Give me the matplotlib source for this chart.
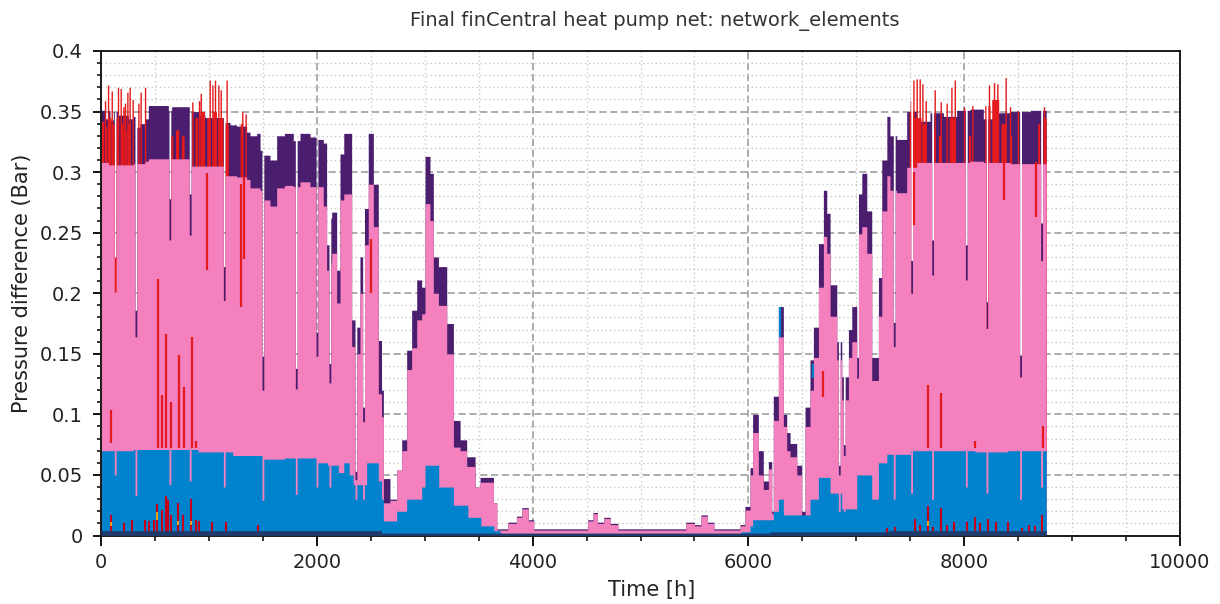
import numpy as np
import matplotlib
matplotlib.use('Agg')
import matplotlib.pyplot as plt
from matplotlib.ticker import MultipleLocator, FuncFormatter

# ---------------- data ----------------
# breakpoints (start hour) for the purple (upper) and pink series
pp_t = [0, 37, 68, 83, 114, 161, 253, 300, 330, 361, 408, 439, 624, 655, 825, 917, 964,
        1134, 1195, 1257, 1350, 1381, 1443, 1474, 1504, 1566, 1628, 1700, 1782, 1844, 1937,
        1999, 2060, 2091, 2120, 2138, 2184, 2215, 2250, 2323, 2354, 2400, 2440, 2477, 2524,
        2570, 2600, 2617, 2678, 2740, 2787, 2833, 2879, 2926, 2972, 3003, 3049, 3080, 3127,
        3204, 3266, 3328, 3389, 3467, 3513, 3637, 3668, 3770, 3850, 3900, 3960, 4010, 4510,
        4560, 4600, 4660, 4720, 4790, 5420, 5500, 5560, 5620, 5680, 5829, 5922, 5968, 6015,
        6039, 6092, 6138, 6185, 6216, 6231, 6278, 6324, 6355, 6386, 6448, 6494, 6525, 6571,
        6602, 6649, 6695, 6726, 6757, 6819, 6865, 6927, 6958, 7004, 7020, 7051, 7097, 7143,
        7205, 7236, 7283, 7312, 7374, 7467, 7560, 7683, 7807, 7930, 8054, 8177, 8301, 8425,
        8610]
purple_v = [0.351, 0.344, 0.351, 0.343, 0.350, 0.347, 0.344, 0.346, 0.337, 0.340, 0.344,
            0.355, 0.351, 0.354, 0.350, 0.347, 0.345, 0.341, 0.339, 0.338, 0.333, 0.330,
            0.332, 0.318, 0.314, 0.310, 0.330, 0.332, 0.326, 0.332, 0.329, 0.327, 0.324,
            0.240, 0.262, 0.267, 0.219, 0.315, 0.332, 0.178, 0.172, 0.230, 0.270, 0.332,
            0.290, 0.161, 0.120, 0.047, 0.030, 0.054, 0.079, 0.153, 0.186, 0.211, 0.205,
            0.313, 0.299, 0.230, 0.222, 0.175, 0.095, 0.079, 0.065, 0.040, 0.048, 0.027,
            0.0055, 0.011, 0.016, 0.023, 0.013, 0.0055, 0.013, 0.019, 0.011, 0.015, 0.010,
            0.0055, 0.011, 0.009, 0.017, 0.011, 0.0055, 0.0055, 0.009, 0.024, 0.056, 0.100,
            0.070, 0.045, 0.061, 0.020, 0.115, 0.189, 0.100, 0.085, 0.076, 0.058, 0.020,
            0.106, 0.145, 0.172, 0.241, 0.285, 0.266, 0.207, 0.160, 0.131, 0.170, 0.189,
            0.147, 0.282, 0.299, 0.268, 0.147, 0.213, 0.310, 0.346, 0.330, 0.327, 0.350,
            0.342, 0.349, 0.346, 0.351, 0.352, 0.344, 0.349, 0.350, 0.351]
pink_v = [0.308, 0.308, 0.306, 0.306, 0.306, 0.306, 0.306, 0.307, 0.307, 0.307, 0.309,
          0.311, 0.311, 0.311, 0.305, 0.305, 0.305, 0.297, 0.297, 0.296, 0.294, 0.287,
          0.287, 0.285, 0.277, 0.272, 0.287, 0.289, 0.288, 0.292, 0.288, 0.288, 0.272,
          0.219, 0.225, 0.233, 0.192, 0.277, 0.282, 0.156, 0.150, 0.200, 0.240, 0.290,
          0.255, 0.117, 0.098, 0.027, 0.029, 0.054, 0.070, 0.137, 0.155, 0.178, 0.183,
          0.274, 0.260, 0.200, 0.190, 0.150, 0.073, 0.070, 0.057, 0.040, 0.044, 0.027,
          0.0045, 0.010, 0.015, 0.022, 0.012, 0.0045, 0.012, 0.018, 0.010, 0.014, 0.009,
          0.0045, 0.010, 0.008, 0.016, 0.010, 0.0045, 0.0045, 0.008, 0.021, 0.050, 0.085,
          0.050, 0.038, 0.055, 0.018, 0.095, 0.164, 0.090, 0.070, 0.065, 0.050, 0.016,
          0.090, 0.120, 0.147, 0.205, 0.247, 0.233, 0.181, 0.145, 0.112, 0.147, 0.160,
          0.130, 0.249, 0.255, 0.233, 0.128, 0.181, 0.268, 0.297, 0.285, 0.283, 0.304,
          0.308, 0.308, 0.308, 0.308, 0.309, 0.308, 0.308, 0.307, 0.307]

# red patches on top of the pink (0 = none)
red_t = [0, 25, 40, 55, 70, 90, 100, 130, 140, 165, 180, 200, 215, 235, 245, 270,
         640, 665, 690, 720, 745, 770, 870, 895, 930, 960, 980, 1010, 1040, 1070, 1090,
         1130, 1150, 1180, 1290, 1315,
         7490, 7530, 7600, 7615, 7650, 7700, 7725, 7760, 7780, 7860, 7920, 8040, 8060,
         8190, 8240, 8255, 8320, 8340, 8390, 8420, 8440, 8680, 8700, 8730]
red_v = [0.342, 0.0, 0.338, 0.0, 0.345, 0.0, 0.340, 0.0, 0.345, 0.0, 0.340, 0.0, 0.335,
         0.0, 0.340, 0.0,
         0.330, 0.0, 0.335, 0.0, 0.330, 0.0, 0.345, 0.0, 0.350, 0.0, 0.345, 0.0, 0.350,
         0.0, 0.345, 0.0, 0.340, 0.0, 0.340, 0.0,
         0.350, 0.345, 0.0, 0.340, 0.0, 0.335, 0.0, 0.330, 0.0, 0.345, 0.0, 0.330, 0.0,
         0.355, 0.0, 0.360, 0.0, 0.340, 0.0, 0.330, 0.0, 0.340, 0.0, 0.345]

# red spikes reaching above the purple
red_spike_t = [31, 59, 93, 151, 176, 201, 216, 238, 259, 287, 340, 361, 402, 840, 902,
               918, 1001, 1026, 1050, 1081, 1103, 1158, 1303, 1334,
               7498, 7523, 7553, 7581, 7606, 7637, 7720, 7776, 7831, 7875, 7906, 7992,
               8069, 8223, 8270, 8301, 8378, 8418, 8492, 8733]
red_spike_v = [0.359, 0.372, 0.367, 0.370, 0.369, 0.354, 0.357, 0.366, 0.370, 0.360,
               0.357, 0.366, 0.370, 0.358, 0.359, 0.365, 0.376, 0.372, 0.376, 0.372,
               0.368, 0.376, 0.350, 0.348,
               0.359, 0.376, 0.377, 0.377, 0.373, 0.359, 0.368, 0.358, 0.357, 0.370,
               0.376, 0.354, 0.355, 0.372, 0.374, 0.373, 0.378, 0.354, 0.351, 0.354]

# red segments visible inside the pink area
red_mid_t = [93, 525, 568, 602, 645, 720, 767, 840, 880, 985, 1297, 1325, 2502,
             6690, 7535, 7668, 7785, 8100, 8370, 8670, 8726]
red_mid_lo = [0.076, 0.072, 0.072, 0.072, 0.072, 0.072, 0.072, 0.072, 0.072, 0.219,
              0.189, 0.228, 0.200, 0.114, 0.256, 0.072, 0.072, 0.072, 0.277, 0.263, 0.072]
red_mid_hi = [0.104, 0.212, 0.116, 0.166, 0.110, 0.149, 0.123, 0.164, 0.078, 0.299,
              0.290, 0.296, 0.245, 0.136, 0.300, 0.124, 0.118, 0.078, 0.308, 0.308, 0.090]

# short drops of all series (white gaps), with the level of the top segment
gap_t = [123, 315, 630, 818, 1134, 1492, 1801, 1993, 2113, 2354, 2425, 6834, 6880,
         7343, 7504, 7699, 8011, 8202, 8514, 8709]
gap_pink = [0.201, 0.164, 0.244, 0.248, 0.194, 0.120, 0.121, 0.148, 0.126, 0.046, 0.094,
            0.050, 0.066, 0.156, 0.200, 0.215, 0.211, 0.171, 0.131, 0.227]
gap_top = [0.230, 0.186, 0.278, 0.282, 0.222, 0.148, 0.138, 0.168, 0.142, 0.053, 0.106,
           0.058, 0.075, 0.176, 0.227, 0.244, 0.240, 0.193, 0.149, 0.258]
gap_color = ['red'] + ['purple'] * 19
gap_blue = [0.050, 0.033, 0.042, 0.045, 0.040, 0.029, 0.034, 0.040, 0.040, 0.030, 0.030,
            0.020, 0.020, 0.030, 0.035, 0.030, 0.040, 0.035, 0.030, 0.040]

# blue series
blue_t = [0, 300, 600, 900, 1220, 1500, 1700, 2000, 2100, 2200, 2250, 2300, 2338, 2462,
          2570, 2600, 2617, 2740, 2833, 2972, 3003, 3130, 3266, 3400, 3520, 3640, 3700,
          5930, 6015, 6039, 6231, 6278, 6324, 6571, 6649, 6757, 6865, 7004, 7143, 7205,
          7283, 7500, 7800, 8100, 8400]
blue_v = [0.070, 0.071, 0.071, 0.069, 0.066, 0.063, 0.064, 0.060, 0.058, 0.052, 0.060,
          0.050, 0.042, 0.060, 0.045, 0.030, 0.012, 0.020, 0.030, 0.040, 0.058, 0.040,
          0.025, 0.015, 0.008, 0.004, 0.0015, 0.003, 0.008, 0.013, 0.020, 0.030, 0.017,
          0.030, 0.048, 0.035, 0.022, 0.050, 0.030, 0.060, 0.067, 0.070, 0.070, 0.069,
          0.070]
blue_mid_t = [6290, 6602]
blue_mid_lo = [0.164, 0.130]
blue_mid_hi = [0.189, 0.142]

# dark red small spikes near zero
low_red_t = [93, 213, 290, 408, 448, 494, 522, 568, 599, 618, 645, 717, 763, 834, 877,
             911, 1032, 1155, 1458, 7281, 7358, 7544, 7590, 7667, 7714, 7785, 7837, 7905,
             8023, 8100, 8146, 8217, 8291, 8409, 8533, 8601, 8656, 8724]
low_red_v = [0.017, 0.010, 0.013, 0.013, 0.012, 0.013, 0.026, 0.021, 0.033, 0.029, 0.017,
             0.027, 0.017, 0.030, 0.013, 0.012, 0.011, 0.011, 0.009, 0.006, 0.007, 0.014,
             0.009, 0.024, 0.007, 0.023, 0.009, 0.011, 0.011, 0.015, 0.010, 0.014, 0.011,
             0.011, 0.006, 0.009, 0.008, 0.017]
orange_t = [93, 522, 717, 834, 7667]
orange_lo = [0.008, 0.013, 0.009, 0.009, 0.008]
orange_hi = [0.011, 0.019, 0.012, 0.012, 0.012]

# navy base line
navy_t = [0, 2600, 6200, 7300]
navy_v = [0.004, 0.002, 0.003, 0.004]

END_HOUR = 8760
XTICKS = [0, 2000, 4000, 6000, 8000, 10000]
YTICKS = [0, 0.05, 0.1, 0.15, 0.2, 0.25, 0.3, 0.35, 0.4]

# ---------------- colours ----------------
PURPLE = '#4A1D6E'
PINK = '#F580BE'
RED = '#E41A1C'
BLUE = '#0082CD'
DARKRED = '#C4001A'
ORANGE = '#E8A020'
NAVY = '#1D3A6B'

hours = np.arange(0, END_HOUR + 1)


def hold(bp_t, bp_v):
    idx = np.searchsorted(bp_t, hours, side='right') - 1
    return np.asarray(bp_v, dtype=float)[idx]


purple = hold(pp_t, purple_v)
pink = hold(pp_t, pink_v)
blue = hold(blue_t, blue_v)
red = hold(red_t, red_v)
navy = hold(navy_t, navy_v)

SPIKE_W = 13
GAP_W = 17
for t, v in zip(red_spike_t, red_spike_v):
    sl = slice(t, t + SPIKE_W)
    red[sl] = np.maximum(red[sl], v)

for t, pv, tv, col, bv in zip(gap_t, gap_pink, gap_top, gap_color, gap_blue):
    sl = slice(t, t + GAP_W)
    pink[sl] = pv
    purple[sl] = tv if col == 'purple' else pv
    red[sl] = tv if col == 'red' else 0.0
    blue[sl] = np.minimum(blue[sl], bv)

# ---------------- figure ----------------
fig = plt.figure(figsize=(12.2, 6.04), dpi=100)
ax = fig.add_axes([101 / 1220, 1 - 535.5 / 604, (1180 - 101) / 1220, (535.5 - 51) / 604])

ax.fill_between(hours, 0, purple, step='post', color=PURPLE, lw=0, zorder=2)
ax.fill_between(hours, 0, red, step='post', color=RED, lw=0, zorder=2.1)
ax.fill_between(hours, 0, pink, step='post', color=PINK, lw=0, zorder=2.2)
ax.vlines(red_mid_t, red_mid_lo, red_mid_hi, color=RED, lw=1.6, zorder=2.3)
ax.vlines(blue_mid_t, blue_mid_lo, blue_mid_hi, color=BLUE, lw=1.6, zorder=2.3)
ax.fill_between(hours, 0, blue, step='post', color=BLUE, lw=0, zorder=2.4)
ax.vlines(low_red_t, 0, low_red_v, color=DARKRED, lw=1.5, zorder=2.5)
ax.vlines(orange_t, orange_lo, orange_hi, color=ORANGE, lw=1.5, zorder=2.6)
ax.fill_between(hours, 0, navy, step='post', color=NAVY, lw=0, zorder=2.7)

ax.set_xlim(0, 10000)
ax.set_ylim(0, 0.4)
ax.set_axisbelow(True)

ax.set_xticks(XTICKS)
ax.xaxis.set_minor_locator(MultipleLocator(500))
ax.set_yticks(YTICKS)
ax.yaxis.set_minor_locator(MultipleLocator(0.01))
ax.yaxis.set_major_formatter(FuncFormatter(lambda v, p: '%g' % round(v, 3)))
ax.xaxis.set_major_formatter(FuncFormatter(lambda v, p: '%d' % v))

ax.grid(which='major', color='#A6A6A6', linestyle=(0, (4, 2)), lw=1.3)
ax.grid(which='minor', color='#C8C8C8', linestyle=(0, (1, 2)), lw=1.0)

ax.tick_params(axis='both', which='major', labelsize=14, labelcolor='#222222',
               width=1.3, direction='out')
ax.tick_params(axis='y', which='major', length=6, pad=7)
ax.tick_params(axis='y', which='minor', length=3, width=1.1)
ax.tick_params(axis='x', which='major', length=7.5, pad=5)
ax.tick_params(axis='x', which='minor', length=3.8, width=1.1)
for s in ax.spines.values():
    s.set_linewidth(1.4)
    s.set_color('#1a1a1a')

fig.text(655 / 1220, 1 - 21 / 604, 'Final finCentral heat pump net: network_elements',
         ha='center', va='center', fontsize=14, color='#333333')
fig.text(652 / 1220, 1 - 590 / 604, 'Time [h]', ha='center', va='center',
         fontsize=15, color='#222222')
fig.text(22 / 1220, 1 - 283 / 604, 'Pressure difference (Bar)', ha='center',
         va='center', rotation=90, fontsize=15, color='#222222')

fig.savefig('out.png', dpi=100)
